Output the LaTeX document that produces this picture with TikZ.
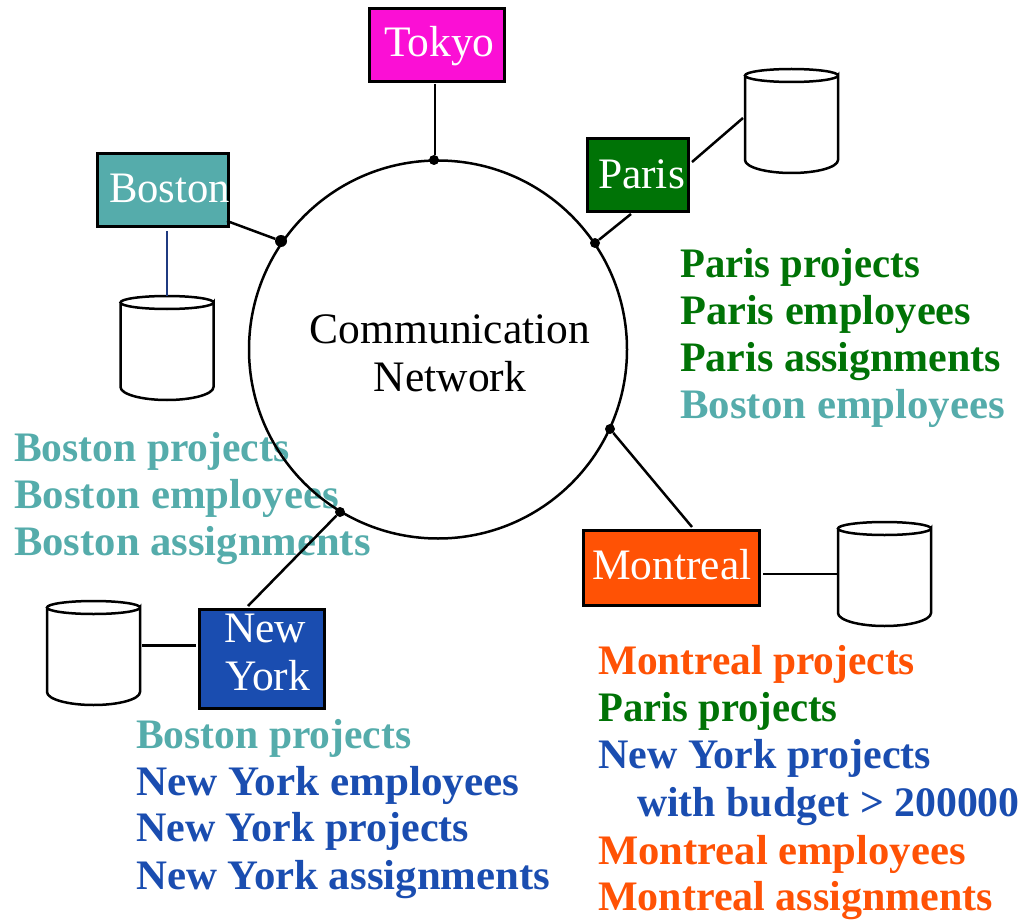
\documentclass[tikz,border=0pt]{standalone}
\usepackage{fontspec}
\setmainfont{Liberation Serif}
\definecolor{tokyoc}{HTML}{FB0FD5}
\definecolor{bostonc}{HTML}{55ACAB}
\definecolor{parisc}{HTML}{007306}
\definecolor{nyc}{HTML}{1A4DB0}
\definecolor{montrealc}{HTML}{FF5205}
\definecolor{wirec}{HTML}{1F3A80}
\newcommand{\regfont}{\fontsize{43.5}{47}\selectfont}
\newcommand{\boldfont}{\fontsize{42}{47}\selectfont\bfseries}
\newcommand{\sx}[2]{\scalebox{#1}[1]{#2}}
\newcommand{\dbcyl}[3]{%
  \node[dbbox] (#1) at (#2,#3) {};
  \draw[cylline,fill=white] (#2-46.5,#3-45.5) -- (#2-46.5,#3+39)
    arc[start angle=180,end angle=0,x radius=46.5,y radius=13]
    -- (#2+46.5,#3-45.5)
    arc[start angle=0,end angle=360,x radius=46.5,y radius=6.5];
}
\newcommand{\cityline}[3]{\rlap{\hspace*{#1pt}\raisebox{-#2pt}[0pt][0pt]{#3}}}
\tikzset{
  x=1pt,y=-1pt,
  citybox/.style={draw=black,line width=3pt,inner sep=0pt,text=white,font=\regfont,text height=0pt,text depth=0pt},
  dbbox/.style={minimum width=93pt,minimum height=104pt,inner sep=0pt},
  cylline/.style={draw=black,line width=2.5pt},
  wire/.style={draw=black,line width=2.5pt},
  thinwire/.style={draw=wirec,line width=2pt},
  dot/.style={circle,fill=black,inner sep=0pt,minimum size=#1},
  dot/.default=10pt,
  replica/.style={anchor=base west,inner sep=0pt,font=\boldfont},
  nettext/.style={anchor=base,inner sep=0pt,font=\regfont,text=black},
}
\begin{document}
\begin{tikzpicture}
\useasboundingbox (0,0) rectangle (1033,920);
% replica lists
\node[replica,text=parisc] (p1) at (680,277) {\sx{.968}{Paris projects}};
\node[replica,text=parisc] (p2) at (680,324) {\sx{1.01}{Paris employees}};
\node[replica,text=parisc] (p3) at (680,371) {Paris assignments};
\node[replica,text=bostonc] (p4) at (680,418) {\sx{1.02}{Boston employees}};
\node[replica,text=bostonc] (b1) at (14,461) {\sx{.99}{Boston projects}};
\node[replica,text=bostonc] (b2) at (14,508) {\sx{1.02}{Boston employees}};
\node[replica,text=bostonc] (b3) at (14,555) {\sx{1.015}{Boston assignments}};
\node[replica,text=bostonc] (n1) at (136,748) {\sx{.99}{Boston projects}};
\node[replica,text=nyc] (n2) at (136,795) {\sx{1.027}{New York employees}};
\node[replica,text=nyc] (n3) at (136,841) {New York projects};
\node[replica,text=nyc] (n4) at (136,889) {\sx{1.02}{New York assignments}};
\node[replica,text=montrealc] (m1) at (598,674) {\sx{.985}{Montreal projects}};
\node[replica,text=parisc] (m2) at (598,721) {\sx{.967}{Paris projects}};
\node[replica,text=nyc] (m3) at (598,768) {New York projects};
\node[replica,text=nyc] (m4) at (637,816) {\sx{.995}{with budget > 200000}};
\node[replica,text=montrealc] (m5) at (598,864) {\sx{1.015}{Montreal employees}};
\node[replica,text=montrealc] (m6) at (598,910) {Montreal assignments};
% network
\node[circle,draw=black,line width=2.5pt,inner sep=0pt,minimum size=378pt] (net) at (438,349.5) {};
\node[nettext] (nt1) at (450,343) {Communication};
\node[nettext] (nt2) at (450,391) {Network};
% attachment points
\node[dot] (dtokyo) at (434,160) {};
\node[dot=12pt] (dboston) at (281,241) {};
\node[dot] (dparis) at (595,243) {};
\node[dot] (dny) at (340,512) {};
\node[dot] (dmontreal) at (610,429) {};
% cities
\node[citybox,fill=tokyoc,minimum width=135pt,minimum height=73.5pt] (tokyo) at (437,45) {\makebox[135pt][l]{\cityline{14.5}{12}{Tokyo}}};
\node[citybox,fill=bostonc,minimum width=131pt,minimum height=73pt] (boston) at (163,190) {\makebox[131pt][l]{\cityline{11.5}{13}{\sx{.98}{Boston}}}};
\node[citybox,fill=parisc,minimum width=101pt,minimum height=73pt] (paris) at (638,175) {\makebox[101pt][l]{\cityline{10.5}{14}{Paris}}};
\node[citybox,fill=nyc,minimum width=125pt,minimum height=99pt] (newyork) at (262,659) {\makebox[125pt][l]{\cityline{24.5}{-17}{New}\cityline{25.5}{31}{York}}};
\node[citybox,fill=montrealc,minimum width=176pt,minimum height=75pt] (montreal) at (671.5,568) {\makebox[176pt][l]{\cityline{8.5}{11}{Montreal}}};
% disks
\dbcyl{dbparis}{791.5}{121}
\dbcyl{dbboston}{167}{348}
\dbcyl{dbny}{93.5}{653}
\dbcyl{dbmontreal}{884.5}{574}
% connector ends
\coordinate (c1) at (435,84);
\coordinate (c2) at (227,221);
\coordinate (c3) at (631,214);
\coordinate (c4) at (692,162);
\coordinate (c5) at (743,118);
\coordinate (c6) at (248,606);
\coordinate (c7) at (142,645.5);
\coordinate (c8) at (196,645.5);
\coordinate (c9) at (692,527);
\coordinate (c10) at (763,574);
\coordinate (c11) at (837,574);
\coordinate (c12) at (166.5,231);
\coordinate (c13) at (166.5,296);
\draw[wire] (c1) -- (c1 |- dtokyo.north);
\draw[wire] (c2) -- (dboston);
\draw[wire] (c3) -- (dparis);
\draw[wire] (c4) -- (c5);
\draw[wire] (c6) -- (dny);
\draw[wire] (c7) -- (c8);
\draw[wire] (c9) -- (dmontreal);
\draw[wire] (c10) -- (c11);
\draw[thinwire] (c12) -- (c13);
\end{tikzpicture}
\end{document}
